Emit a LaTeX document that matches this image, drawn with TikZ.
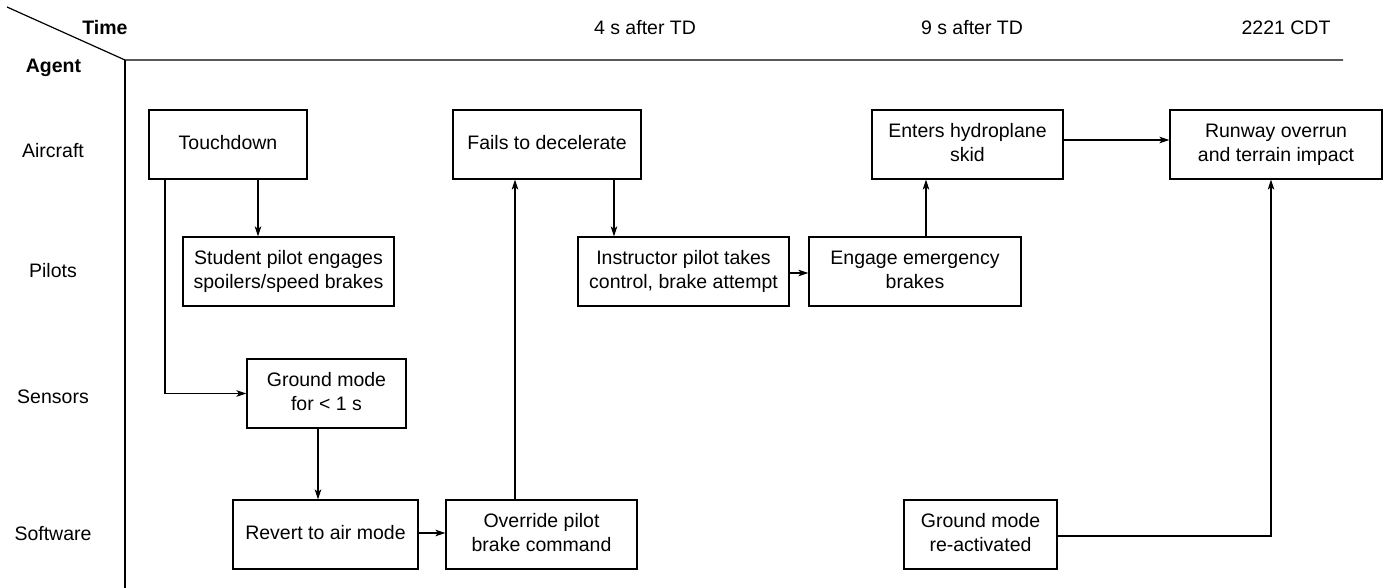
\documentclass[tikz,border=0pt]{standalone}
\usepackage{fontspec}
\setmainfont{Liberation Sans}
\usetikzlibrary{arrows.meta}
\begin{document}
\begin{tikzpicture}[x=1pt,y=-1pt,
  every node/.style={font=\fontsize{19.5}{24}\selectfont, inner sep=0pt},
  box/.style={draw, line width=1.2pt, minimum height=69pt, align=center,
    execute at end node={\rule[-4pt]{0pt}{4pt}}},
  hdr/.style={font=\fontsize{19.5}{24}\selectfont\bfseries},
  ln/.style={line width=1.2pt},
  arr/.style={line width=1.2pt, -{Stealth[length=10pt,width=6.5pt,inset=2.5pt]}}
]
\useasboundingbox (0,0) rectangle (1385,588);
% frame
\coordinate (diagA) at (7,7);
\coordinate (corner) at (125,60);
\coordinate (hend) at (1343,60);
\coordinate (vend) at (125,588);
\draw[ln] (diagA) -- (corner) -- (hend);
\draw[ln] (corner) -- (vend);
% headers
\node[hdr] (time) at (105,28) {Time};
\node[hdr] (agent) at (53.5,68) {Agent};
\node (t1) at (645,28) {4 s after TD};
\node (t2) at (972,28) {9 s after TD};
\node (t3) at (1286,28) {2221 CDT};
\node (r1) at (53,151) {Aircraft};
\node (r2) at (53,271) {Pilots};
\node (r3) at (53,397) {Sensors};
\node (r4) at (53,534) {Software};
% boxes
\node[box, minimum width=158pt] (touch) at (228,144.5) {Touchdown};
\node[box, minimum width=211pt] (student) at (288.5,271.5) {Student pilot engages\\spoilers/speed brakes};
\node[box, minimum width=159pt] (ground) at (326.5,393.5) {Ground mode\\for < 1 s};
\node[box, minimum width=185pt] (revert) at (325.5,534.5) {Revert to air mode};
\node[box, minimum width=191pt] (override) at (541.5,534.5) {Override pilot\\brake command};
\node[box, minimum width=188pt] (fails) at (547,144.5) {Fails to decelerate};
\node[box, minimum width=211pt] (instr) at (683.5,271.5) {Instructor pilot takes\\control, brake attempt};
\node[box, minimum width=212pt] (engage) at (915,271.5) {Engage emergency\\brakes};
\node[box, minimum width=191pt] (enters) at (967.5,144.5) {Enters hydroplane\\skid};
\node[box, minimum width=212pt] (runway) at (1276,144.5) {Runway overrun\\and terrain impact};
\node[box, minimum width=153pt] (gmre) at (980.5,534.5) {Ground mode\\re-activated};
% connectors
\coordinate (cA) at (258,0);
\coordinate (cB) at (165,393.5);
\coordinate (cC) at (318,0);
\coordinate (cD) at (0,533);
\coordinate (cE) at (515,0);
\coordinate (cF) at (614,0);
\coordinate (cG) at (0,273);
\coordinate (cH) at (926,0);
\coordinate (cI) at (0,140);
\coordinate (cJ) at (1271,536);
\draw[arr] (touch.south -| cA) -- (student.north -| cA);
\draw[arr] (touch.south -| cB) -- (cB) -- (ground.west);
\draw[arr] (ground.south -| cC) -- (revert.north -| cC);
\draw[arr] (revert.east |- cD) -- (override.west |- cD);
\draw[arr] (override.north -| cE) -- (fails.south -| cE);
\draw[arr] (fails.south -| cF) -- (instr.north -| cF);
\draw[arr] (instr.east |- cG) -- (engage.west |- cG);
\draw[arr] (engage.north -| cH) -- (enters.south -| cH);
\draw[arr] (enters.east |- cI) -- (runway.west |- cI);
\draw[arr] (gmre.east |- cJ) -- (cJ) -- (runway.south -| cJ);
\end{tikzpicture}
\end{document}
